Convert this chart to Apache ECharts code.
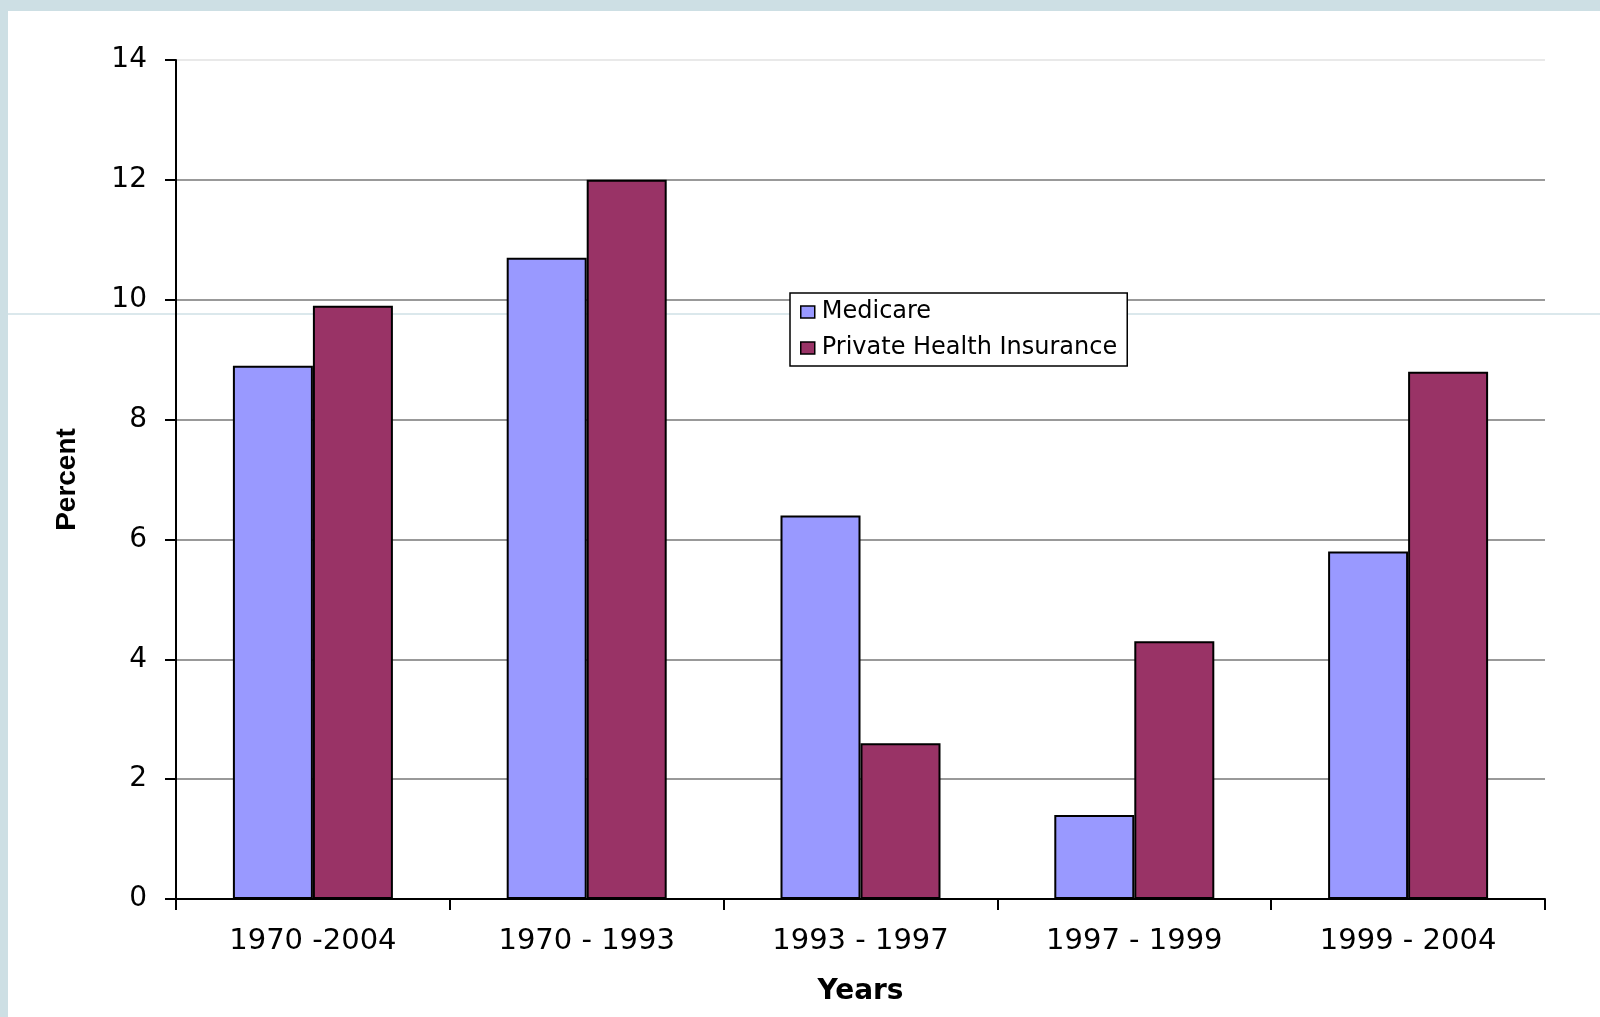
<!DOCTYPE html>
<html lang="en" style="height: 100%">
<head>
  <meta charset="utf-8">
</head>
<body style="height: 100%; margin: 0; background: #cddfe4">
  <div id="container" style="position: absolute; left: 8px; top: 11px; width: 1592px; height: 1006px; background: #fff"></div>

  <script type="text/javascript" src="https://fastly.jsdelivr.net/npm/echarts@6.0.0/dist/echarts.min.js"></script>
  <script type="text/javascript">
    // data
    var periods = ['1970 -2004', '1970 - 1993', '1993 - 1997', '1997 - 1999', '1999 - 2004'];
    var medicare = [8.9, 10.7, 6.4, 1.4, 5.8];
    var privateIns = [9.9, 12.0, 2.6, 4.3, 8.8];
    var yTicks = [0, 14, 2];

    var dom = document.getElementById('container');
    var myChart = echarts.init(dom, null, { renderer: 'canvas' });
    var option;

    var lbl = 'DejaVu Sans';

    option = {
      animation: false,
      backgroundColor: '#fff',
      graphic: [
        {
          // faint line of the slide behind the chart
          type: 'line',
          z: 0,
          shape: { x1: -8, y1: 303, x2: 1592, y2: 303 },
          style: { stroke: '#cfe0e6', lineWidth: 1.5 }
        }
      ],
      grid: {
        left: 168,
        right: 55,
        top: 49,
        bottom: 118,
        containLabel: false
      },
      legend: {
        orient: 'vertical',
        left: 782,
        top: 282,
        padding: [7, 10, 6, 10],
        itemGap: 12,
        itemWidth: 14,
        itemHeight: 12,
        icon: 'rect',
        selectedMode: false,
        borderColor: '#000',
        borderWidth: 1.5,
        backgroundColor: '#fff',
        textStyle: { fontFamily: lbl, fontSize: 24, color: '#000', padding: [0, 0, 0, 2] },
        itemStyle: { borderColor: '#000', borderWidth: 1.5 },
        data: ['Medicare', 'Private Health Insurance']
      },
      xAxis: {
        type: 'category',
        data: periods,
        name: 'Years',
        nameLocation: 'middle',
        nameGap: 79,
        nameTextStyle: { fontFamily: lbl, fontWeight: 'bold', fontSize: 28, color: '#000' },
        axisLine: { lineStyle: { color: '#000', width: 2 } },
        axisTick: { show: true, length: 11, lineStyle: { color: '#000', width: 2 } },
        axisLabel: { interval: 0, margin: 28, fontFamily: lbl, fontSize: 29, color: '#000' },
        splitLine: { show: false }
      },
      yAxis: {
        type: 'value',
        min: yTicks[0],
        max: yTicks[1],
        interval: yTicks[2],
        name: 'Percent',
        nameLocation: 'middle',
        nameRotate: 90,
        nameGap: 95,
        nameTextStyle: { fontFamily: 'Liberation Sans', fontWeight: 'bold', fontSize: 28, color: '#000' },
        axisLine: { show: true, lineStyle: { color: '#000', width: 2 } },
        axisTick: { show: true, length: 11, lineStyle: { color: '#000', width: 2 } },
        axisLabel: { margin: 29, fontFamily: lbl, fontSize: 28, color: '#000' },
        splitLine: {
          show: true,
          lineStyle: {
            width: 1.5,
            color: ['#777', '#777', '#777', '#777', '#777', '#777', '#777', '#e2e2e2']
          }
        }
      },
      series: [
        {
          name: 'Medicare',
          type: 'bar',
          data: medicare,
          barWidth: 80,
          barGap: '0%',
          itemStyle: { color: '#9999ff', borderColor: '#000', borderWidth: 2 }
        },
        {
          name: 'Private Health Insurance',
          type: 'bar',
          data: privateIns,
          barWidth: 80,
          barGap: '0%',
          itemStyle: { color: '#993366', borderColor: '#000', borderWidth: 2 }
        }
      ]
    };

    if (option && typeof option === 'object') {
      myChart.setOption(option);
    }

    window.addEventListener('resize', myChart.resize);
  </script>
</body>
</html>
